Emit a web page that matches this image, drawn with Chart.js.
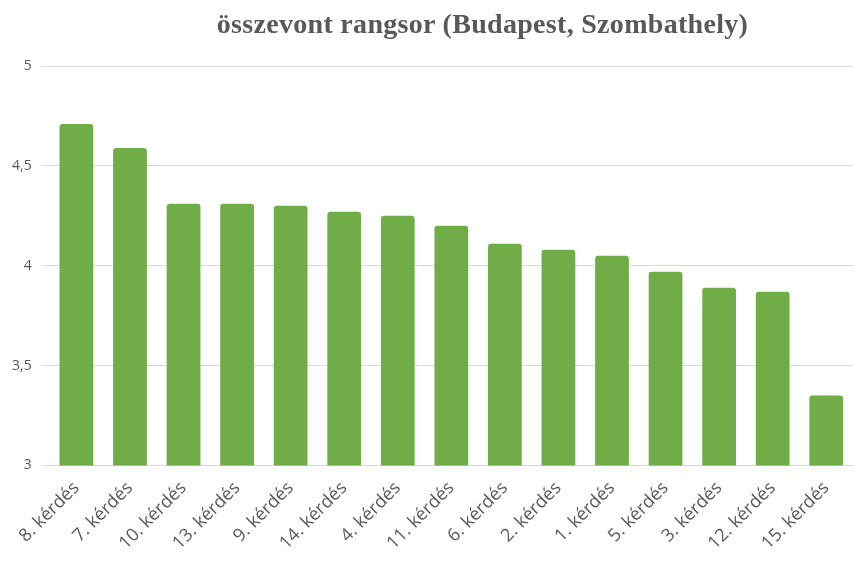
<!DOCTYPE html>
<html>
<head>
<meta charset="utf-8">
<script src="https://cdn.jsdelivr.net/npm/chart.js@4/dist/chart.umd.min.js"></script>
<style>
  html, body { margin: 0; padding: 0; background: #fff; }
  #wrap { width: 853px; height: 561px; position: relative; }
  #title {
    position: absolute; left: 0; top: 8px; width: 853px; padding-left: 112px; box-sizing: border-box;
    text-align: center; color: #595959; font: bold 28px 'Liberation Serif', serif; letter-spacing: 0.3px;
  }
</style>
</head>
<body>
<div id="wrap"><canvas id="rangsorChart"></canvas><div id="title"></div></div>
<script>
// chart data
const chartTitle = 'összevont rangsor (Budapest, Szombathely)';
const categories = ['8. kérdés', '7. kérdés', '10. kérdés', '13. kérdés', '9. kérdés', '14. kérdés',
    '4. kérdés', '11. kérdés', '6. kérdés', '2. kérdés', '1. kérdés', '5. kérdés', '3. kérdés',
    '12. kérdés', '15. kérdés'];
const scores = [4.71, 4.59, 4.31, 4.31, 4.30, 4.27, 4.25, 4.20, 4.11, 4.08, 4.05, 3.97, 3.89, 3.87, 3.35];
const yTicks = [3, 3.5, 4, 4.5, 5];

document.addEventListener('DOMContentLoaded', function() {
    document.getElementById('title').textContent = chartTitle;

    const ctx = document.getElementById('rangsorChart');
    new Chart(ctx.getContext('2d'), {
        type: 'bar',
        data: {
            labels: categories,
            datasets: [
                {
                    label: 'rangsor',
                    data: scores,
                    backgroundColor: '#70ad47',
                    borderRadius: { topLeft: 3, topRight: 3 },
                    borderSkipped: 'bottom',
                    categoryPercentage: 1,
                    barPercentage: 0.63
                }
            ]
        },
        options: {
            responsive: true,
            maintainAspectRatio: false,
            animation: false,
            layout: { padding: { left: 2, right: 0, top: 66, bottom: 3 } },
            plugins: {
                legend: { display: false },
                tooltip: { enabled: false },
                title: { display: false }
            },
            scales: {
                y: {
                    min: yTicks[0],
                    max: yTicks[yTicks.length - 1],
                    afterBuildTicks: function(axis) {
                        axis.ticks = yTicks.map(function(v) { return { value: v }; });
                    },
                    border: { display: false },
                    grid: { color: '#d9d9d9', lineWidth: 1, tickLength: 8 },
                    ticks: {
                        color: '#595959',
                        padding: 10,
                        font: { family: 'Open Sans', size: 14 },
                        callback: function(value) { return String(value).replace('.', ','); }
                    }
                },
                x: {
                    border: { display: true, color: '#d9d9d9' },
                    grid: { display: false },
                    ticks: {
                        color: '#595959',
                        minRotation: 45,
                        maxRotation: 45,
                        padding: 4,
                        font: { family: 'Open Sans', size: 18 }
                    }
                }
            }
        }
    });
});
</script>
</body>
</html>
